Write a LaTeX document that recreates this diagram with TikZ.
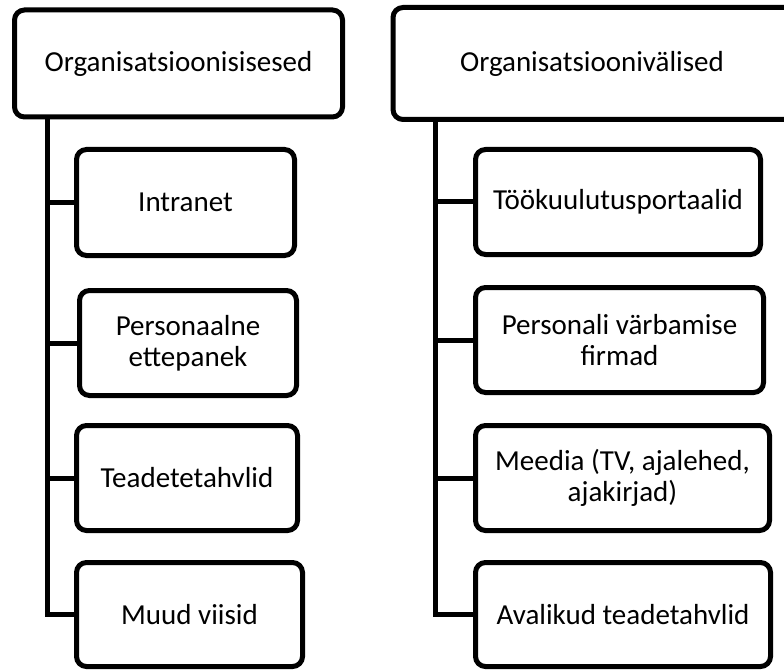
\documentclass[tikz,border=0pt]{standalone}
\usepackage{fontspec}
\setmainfont{Carlito}
\begin{document}
\begin{tikzpicture}[x=1pt,y=-1pt,
  box/.style={draw=black,line width=5pt,rounded corners=10pt,fill=white,
    inner sep=0pt,align=center,font=\fontsize{29}{31}\selectfont},
  openbox/.style={box,draw=none},
  frame/.style={draw=black,line width=5pt,rounded corners=10pt},
  conn/.style={draw=black,line width=5pt,line cap=rect}]
\useasboundingbox (0,0) rectangle (784,671);
\clip (0,0) rectangle (784,671);
\fill[white] (0,0) rectangle (784,671);

% spine positions
\coordinate (lx) at (47,0);
\coordinate (rx) at (435,0);

% left column
\node[box,minimum width=328,minimum height=107] (ltop) at (178.5,63.5) {Organisatsioonisisesed};
\node[box,minimum width=218,minimum height=106] (l1) at (185.5,202.5) {Intranet};
\node[box,minimum width=217,minimum height=105] (l2) at (188,343) {Personaalne\\ettepanek};
\node[box,minimum width=221,minimum height=105] (l3) at (187,478) {Teadetetahvlid};
\node[box,minimum width=226,minimum height=104] (l4) at (189.5,614.5) {Muud viisid};

% right column: the top box is open on its right, where it leaves the page
\node[openbox,minimum width=393,minimum height=107] (rtop) at (592,63.5) {Organisatsioonivälised};
\draw[frame] (rtop.north east) ++(30,0) -- (rtop.north west) -- (rtop.south west) -- ++(430,0);
\node[box,minimum width=285,minimum height=105] (r1) at (618,202) {Töökuulutusportaalid};
\node[box,minimum width=288,minimum height=105] (r2) at (619.5,340) {Personali värbamise\\firmad};
\node[box,minimum width=294,minimum height=105] (r3) at (622.5,478) {Meedia (TV, ajalehed,\\ajakirjad)};
\node[box,minimum width=295,minimum height=104] (r4) at (623,614.5) {Avalikud teadetahvlid};

% connectors
\foreach \c in {l1,l2,l3,l4}
  \draw[conn] (ltop.south -| lx) |- (\c.west);
\foreach \c in {r1,r2,r3,r4}
  \draw[conn] (rtop.south -| rx) |- (\c.west);
\end{tikzpicture}
\end{document}
